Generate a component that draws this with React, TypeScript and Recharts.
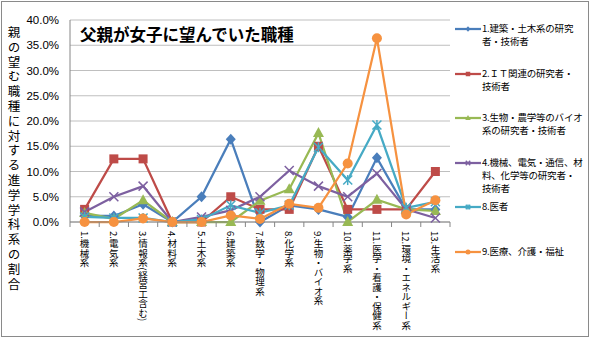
import { LineChart, Line, XAxis, YAxis, CartesianGrid } from "recharts";

const categories = [
  "1.機械系",
  "2.電気系",
  "3.情報系(経営工含む)",
  "4.材料系",
  "5.土木系",
  "6.建築系",
  "7.数学・物理系",
  "8.化学系",
  "9.生物・バイオ系",
  "10.薬学系",
  "11.医学・看護・保健系",
  "12.環境・エネルギー系",
  "13.生活系",
];

// 値は % 表記
const kenchiku = [1.2, 1.2, 3.5, 0, 5.0, 16.4, 0, 3.3, 2.5, 1.0, 12.7, 2.5, 2.5];
const itKanren = [2.5, 12.5, 12.5, 0, 0, 5.0, 2.5, 2.5, 15.0, 2.5, 2.5, 2.5, 10.0];
const bio = [1.8, 0.6, 4.3, 0, 0, 0, 4.2, 6.5, 17.6, 0, 4.4, 2.5, 2.2];
const kikai = [2.0, 5.0, 7.1, 0, 1.0, 2.3, 5.0, 10.2, 7.1, 5.0, 9.6, 2.5, 0.8];
const isha = [1.0, 0.8, 0.8, 0, 0.5, 3.3, 1.8, 3.3, 14.8, 8.3, 19.2, 2.8, 4.0];
const iryo = [0, 0, 0.7, 0, 0, 1.3, 0.6, 3.6, 2.8, 11.6, 36.4, 1.5, 4.3];

const yTicks = [0, 5, 10, 15, 20, 25, 30, 35, 40];

const series = [
  { key: "kenchiku", values: kenchiku, name: "1.建築・土木系の研究\n者・技術者", color: "#4A7EBB", marker: "diamond" },
  { key: "itKanren", values: itKanren, name: "2.ＩＴ関連の研究者・\n技術者", color: "#BE4B48", marker: "square" },
  { key: "bio", values: bio, name: "3.生物・農学等のバイオ\n系の研究者・技術者", color: "#98B954", marker: "triangle" },
  { key: "kikai", values: kikai, name: "4.機械、電気・通信、材\n料、化学等の研究者・\n技術者", color: "#7D60A0", marker: "x" },
  { key: "isha", values: isha, name: "8.医者", color: "#46AAC5", marker: "star" },
  { key: "iryo", values: iryo, name: "9.医療、介護・福祉", color: "#F69240", marker: "circle" },
];

const data = categories.map((c, i) => {
  const row: Record<string, string | number> = { category: c };
  series.forEach((s) => (row[s.key] = s.values[i]));
  return row;
});

const JP = '"Noto Sans CJK JP", "Noto Sans", sans-serif';
const PLOT_LEFT = 70;
const PLOT_RIGHT = 450;
const PLOT_TOP = 20;
const PLOT_BOTTOM = 222;
const STEP = (PLOT_RIGHT - PLOT_LEFT) / categories.length;

function Marker({ cx, cy, type, color, s = 1 }: any) {
  if (cx == null || cy == null) return null;
  switch (type) {
    case "diamond":
      return <polygon points={`${cx},${cy - 5.5 * s} ${cx + 5 * s},${cy} ${cx},${cy + 5.5 * s} ${cx - 5 * s},${cy}`} fill={color} />;
    case "square":
      return <rect x={cx - 4.5 * s} y={cy - 4.5 * s} width={9 * s} height={9 * s} fill={color} />;
    case "triangle":
      return <polygon points={`${cx},${cy - 6 * s} ${cx + 5.5 * s},${cy + 4 * s} ${cx - 5.5 * s},${cy + 4 * s}`} fill={color} />;
    case "x":
      return (
        <g stroke={color} strokeWidth={1.5}>
          <line x1={cx - 4.5 * s} y1={cy - 4.5 * s} x2={cx + 4.5 * s} y2={cy + 4.5 * s} />
          <line x1={cx - 4.5 * s} y1={cy + 4.5 * s} x2={cx + 4.5 * s} y2={cy - 4.5 * s} />
        </g>
      );
    case "star":
      return (
        <g stroke={color} strokeWidth={1.5}>
          <line x1={cx - 4.5 * s} y1={cy - 4.5 * s} x2={cx + 4.5 * s} y2={cy + 4.5 * s} />
          <line x1={cx - 4.5 * s} y1={cy + 4.5 * s} x2={cx + 4.5 * s} y2={cy - 4.5 * s} />
          <line x1={cx} y1={cy - 5 * s} x2={cx} y2={cy + 5 * s} />
        </g>
      );
    default:
      return <circle cx={cx} cy={cy} r={5 * s} fill={color} />;
  }
}

function CategoryTick({ x, y, payload, index }: any) {
  const half = STEP / 2;
  return (
    <g>
      <line x1={x - half} y1={y} x2={x - half} y2={y + 5} stroke="#868686" />
      {index === categories.length - 1 && <line x1={x + half} y1={y} x2={x + half} y2={y + 5} stroke="#868686" />}
      <text
        x={x}
        y={y + 9}
        textAnchor="start"
        fontSize={9.5}
        fontFamily={JP}
        fill="#000"
        style={{ writingMode: "vertical-rl" }}
      >
        {payload.value}
      </text>
    </g>
  );
}

export default function App() {
  return (
    <div style={{ position: "absolute", left: 0, top: 0, width: 590, height: 339, background: "#fff" }}>
      <div
        style={{
          position: "absolute",
          left: 1,
          top: 1,
          width: 586,
          height: 334,
          border: "1px solid #8a8a8a",
        }}
      />
      <LineChart
        width={590}
        height={339}
        data={data}
        margin={{ top: PLOT_TOP, right: 590 - PLOT_RIGHT, bottom: 0, left: 0 }}
      >
        <CartesianGrid vertical={false} stroke="#BFBFBF" />
        <XAxis
          dataKey="category"
          interval={0}
          height={339 - PLOT_BOTTOM}
          padding={{ left: STEP / 2, right: STEP / 2 }}
          stroke="#868686"
          tickLine={false}
          tickSize={0}
          tickMargin={0}
          tick={<CategoryTick />}
        />
        <YAxis
          width={PLOT_LEFT}
          domain={[0, 40]}
          ticks={yTicks}
          interval={0}
          stroke="#868686"
          tickLine={false}
          tickMargin={5}
          tick={{ fontSize: 11.5, fill: "#000", fontFamily: '"Liberation Sans", Arial, sans-serif' }}
          tickFormatter={(v: number) => `${v.toFixed(1)}%`}
          label={{
            content: () => (
              <text
                x={14}
                y={26}
                textAnchor="start"
                fontSize={12.5}
                fontFamily={JP}
                fill="#000"
                letterSpacing={2.3}
                style={{ writingMode: "vertical-rl" }}
              >
                親の望む職種に対する進学学科系の割合
              </text>
            ),
          }}
        />
        {series.map((s) => (
          <Line
            key={s.key}
            dataKey={s.key}
            name={s.name}
            stroke={s.color}
            strokeWidth={2.25}
            isAnimationActive={false}
            dot={(p: any) => <Marker key={`${s.key}-${p.index}`} cx={p.cx} cy={p.cy} type={s.marker} color={s.color} />}
            activeDot={false}
          />
        ))}
      </LineChart>
      <div
        style={{
          position: "absolute",
          left: 80,
          top: 23,
          fontFamily: JP,
          fontWeight: 700,
          fontSize: 16.5,
          color: "#000",
          lineHeight: "22px",
        }}
      >
        父親が女子に望んでいた職種
      </div>
      <div style={{ position: "absolute", left: 454, top: 21, width: 134 }}>
        {series.map((s) => (
          <div key={s.key} style={{ display: "flex", height: 44.6, alignItems: "flex-start" }}>
            <svg width={28} height={14} style={{ flex: "none" }}>
              <line x1={1} y1={8} x2={27} y2={8} stroke={s.color} strokeWidth={2.25} />
              <Marker cx={14} cy={8} type={s.marker} color={s.color} s={0.5} />
            </svg>
            <div
              style={{
                fontFamily: JP,
                fontSize: 9.5,
                letterSpacing: -0.2,
                lineHeight: "13px",
                whiteSpace: "pre",
                color: "#000",
                marginTop: 1,
              }}
            >
              {s.name}
            </div>
          </div>
        ))}
      </div>
    </div>
  );
}
